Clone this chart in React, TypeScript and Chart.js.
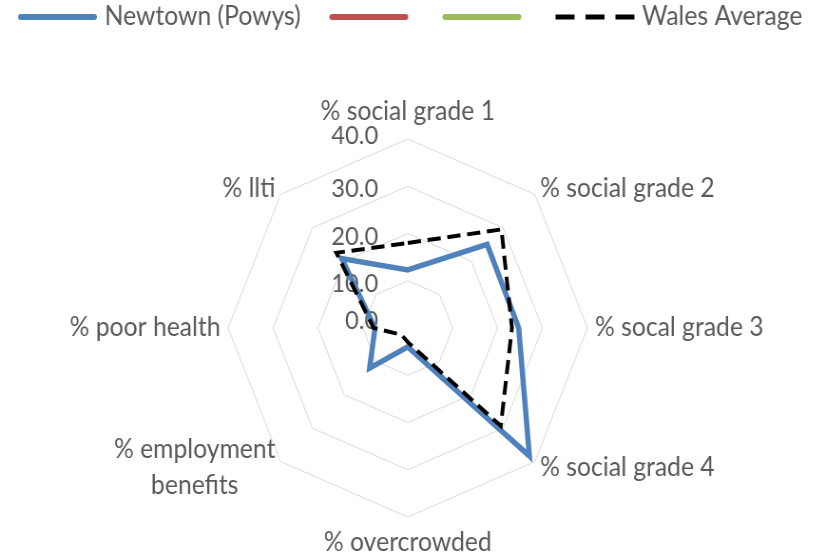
import React, { useEffect, useRef } from 'react';
import { Chart, registerables } from 'chart.js';

Chart.register(...registerables);

const categories: (string | string[])[] = [
  '% social grade 1',
  '% social grade 2',
  '% socal grade 3',
  '% social grade 4',
  '% overcrowded',
  ['% employment', 'benefits'],
  '% poor health',
  '% llti',
];
const newtownValues = [12.3, 25.0, 24.7, 38.3, 4.0, 12.0, 7.3, 20.8];
const walesValues = [18.0, 29.5, 23.2, 29.3, 3.0, 2.0, 7.6, 22.5];
const series2Values: (number | null)[] = [];
const series3Values: (number | null)[] = [];
const tickValues = [0, 10, 20, 30, 40];
const seriesLabels = ['Newtown (Powys)', '', '', 'Wales Average'];
const seriesColors = ['#4F81BD', '#C0504D', '#9BBB59', '#000000'];

const SX = 0.95; // horizontal stretch of the reference picture
const W = Math.round(825 / SX);
const H = 560;
const FONT = 'Lato, "Open Sans", sans-serif';
const TEXT = '#595959';

const labelsPlugin = {
  id: 'customLabels',
  beforeDatasetsDraw(chart: any) {
    const ctx = chart.ctx;
    const scale = chart.scales.r;
    ctx.save();
    // tick labels, left of the vertical axis
    ctx.font = `25px ${FONT}`;
    ctx.fillStyle = TEXT;
    ctx.textAlign = 'right';
    ctx.textBaseline = 'middle';
    tickValues.forEach((v, i) => {
      const d = scale.getDistanceFromCenterForValue(v);
      let off = 3;
      if (i === 0) off = -7;
      if (i === tickValues.length - 1) off = -3.5;
      ctx.fillText(v.toFixed(1), scale.xCenter - 31, scale.yCenter - d + off);
    });
    // point labels
    ctx.font = `26px ${FONT}`;
    const r = scale.drawingArea;
    const n = categories.length;
    const lh = 36;
    categories.forEach((lab, i) => {
      const lines = Array.isArray(lab) ? lab : [lab];
      const pos = scale.getPointPosition(i, r + 8);
      const frac = i / n;
      let x = pos.x;
      let y = pos.y;
      let align: CanvasTextAlign = 'center';
      if (i === 0) {
        y = pos.y - 19;
      } else if (frac === 0.5) {
        y = pos.y + 18;
      } else if (frac < 0.5) {
        align = 'left';
      } else {
        align = 'right';
      }
      const widths = lines.map((l) => ctx.measureText(l).width);
      const maxW = Math.max(...widths);
      ctx.textAlign = 'center';
      let cx = x;
      if (align === 'left') cx = x + maxW / 2;
      if (align === 'right') cx = x - maxW / 2;
      const top = y - ((lines.length - 1) * lh) / 2;
      lines.forEach((l, j) => ctx.fillText(l, cx, top + j * lh));
    });
    ctx.restore();
  },
  afterDraw(chart: any) {
    const ctx = chart.ctx;
    ctx.save();
    ctx.font = `26px ${FONT}`;
    ctx.textBaseline = 'middle';
    ctx.textAlign = 'left';
    let x = 19;
    const y = 17;
    const len = 83;
    chart.data.datasets.forEach((ds: any, i: number) => {
      ctx.beginPath();
      ctx.strokeStyle = seriesColors[i];
      if (ds.borderDash && ds.borderDash.length) {
        ctx.lineWidth = 5;
        ctx.lineCap = 'butt';
        ctx.setLineDash([20, 11.5]);
        ctx.moveTo(x, y);
        ctx.lineTo(x + len, y);
      } else {
        ctx.lineWidth = 6;
        ctx.lineCap = 'round';
        ctx.setLineDash([]);
        ctx.moveTo(x + 3, y);
        ctx.lineTo(x + len - 3, y);
      }
      ctx.stroke();
      ctx.setLineDash([]);
      const t = seriesLabels[i];
      let step = 36;
      if (t) {
        ctx.fillStyle = TEXT;
        ctx.fillText(t, x + len + 8, y);
        step = 8 + ctx.measureText(t).width + 30;
      }
      x += len + step;
    });
    ctx.restore();
  },
};

export default function App() {
  const ref = useRef<HTMLCanvasElement | null>(null);
  useEffect(() => {
    document.body.style.margin = '0';
    const chart = new Chart(ref.current as HTMLCanvasElement, {
      type: 'radar',
      data: {
        labels: categories as any,
        datasets: [
          {
            label: seriesLabels[0],
            data: newtownValues,
            borderColor: seriesColors[0],
            backgroundColor: 'transparent',
            borderWidth: 5.5,
            pointRadius: 0,
            fill: false,
            order: 2,
          },
          {
            label: seriesLabels[1],
            data: series2Values as any,
            borderColor: seriesColors[1],
            borderWidth: 5,
            pointRadius: 0,
            fill: false,
          },
          {
            label: seriesLabels[2],
            data: series3Values as any,
            borderColor: seriesColors[2],
            borderWidth: 5,
            pointRadius: 0,
            fill: false,
          },
          {
            label: seriesLabels[3],
            data: walesValues,
            borderColor: seriesColors[3],
            backgroundColor: 'transparent',
            borderWidth: 4,
            borderDash: [14, 7],
            pointRadius: 0,
            fill: false,
            order: 1,
          },
        ],
      },
      options: {
        responsive: false,
        animation: false,
        devicePixelRatio: 1,
        layout: { padding: { left: 240, top: 139, right: W - 240 - 378, bottom: H - 139 - 378 } },
        plugins: { legend: { display: false }, tooltip: { enabled: false } },
        scales: {
          r: {
            min: 0,
            max: 40,
            ticks: { stepSize: 10, display: false },
            grid: { color: '#d9d9d9', lineWidth: 1 },
            angleLines: { display: false },
            pointLabels: { display: false },
          },
        },
      },
      plugins: [labelsPlugin],
    });
    return () => chart.destroy();
  }, []);
  return (
    <canvas
      ref={ref}
      width={W}
      height={H}
      style={{ width: '825px', height: '560px', display: 'block', position: 'absolute', left: 0, top: 0 }}
    />
  );
}
